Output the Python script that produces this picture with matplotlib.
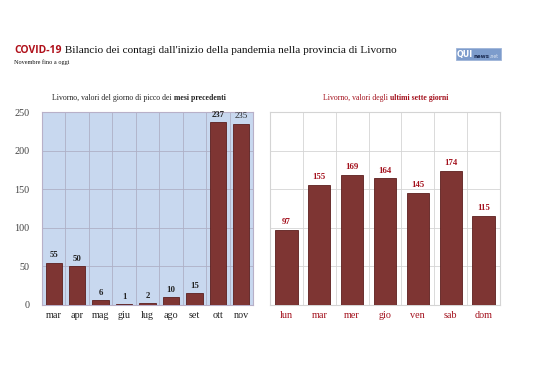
import matplotlib
matplotlib.use("Agg")
import matplotlib.pyplot as plt
from matplotlib.patches import Rectangle
import numpy as np

months = ["mar", "apr", "mag", "giu", "lug", "ago", "set", "ott", "nov"]
month_vals = [55, 50, 6, 1, 2, 10, 15, 237, 235]
days = ["lun", "mar", "mer", "gio", "ven", "sab", "dom"]
day_vals = [97, 155, 169, 164, 145, 174, 115]
yticks = [0, 50, 100, 150, 200, 250]

SERIF = "Liberation Serif"
BAR = "#7e3533"
EDGE = "#5c1e1e"
RED = "#a3101c"
W, H = 538, 380

fig = plt.figure(figsize=(5.38, 3.8), dpi=100)
fig.patch.set_facecolor("white")


def fx(px):
    return px / W


def fy(py):
    return 1 - py / H


def chain(x0, y, parts, ha="left"):
    """parts: list of (text, kwargs); draws consecutive texts on a baseline."""
    objs = [fig.text(x0, y, t, va="baseline", ha="left", **kw) for t, kw in parts]
    fig.canvas.draw()
    r = fig.canvas.get_renderer()
    widths = [o.get_window_extent(r).width / fig.bbox.width for o in objs]
    total = sum(widths)
    start = x0 - total / 2 if ha == "center" else x0
    for o, w in zip(objs, widths):
        o.set_x(start)
        start += w
    return objs


# Title
chain(fx(14), fy(53), [
    ("COVID-19", dict(color="#b0101a", fontsize=7.5, fontweight="bold", family="Open Sans")),
    (" Bilancio dei contagi dall'inizio della pandemia nella provincia di Livorno",
     dict(color="#111111", fontsize=8.1, family=SERIF)),
])
fig.text(fx(14), fy(64), "Novembre fino a oggi", fontsize=4.5, family=SERIF,
         color="#111111", va="baseline")

# logo
fig.add_artist(Rectangle((fx(456), fy(60)), fx(45), 12 / H, transform=fig.transFigure,
                         facecolor="#7d9ccc", edgecolor="#9fb4d8", linewidth=0.6))
chain(fx(457), fy(57.5), [
    ("QUI", dict(fontsize=5.8, fontweight="bold", color="white", family="DejaVu Sans")),
    ("news", dict(fontsize=4.0, fontweight="bold", color="#1a2a50", family="DejaVu Sans")),
    (".net", dict(fontsize=3.3, color="#dfe6f2", family="DejaVu Sans")),
])

bottom = fy(305)
height = 193 / H

# Left axes
ax1 = fig.add_axes([fx(42), bottom, fx(211), height])
ax1.set_facecolor("#c8d8ef")
x1 = np.arange(len(months))
ax1.bar(x1, month_vals, width=0.7, color=BAR, edgecolor=EDGE, linewidth=0.6, zorder=3)
ax1.set_xlim(-0.5, len(months) - 0.5)
ax1.set_ylim(0, 250)
ax1.set_yticks(yticks)
ax1.set_yticklabels([str(v) for v in yticks], family=SERIF, fontsize=7.3, color="#444444")
ax1.set_xticks(x1)
ax1.set_xticklabels(months, family=SERIF, fontsize=7.3, color="#222222")
ax1.set_xticks(np.arange(len(months) + 1) - 0.5, minor=True)
ax1.tick_params(axis="both", which="both", length=0)
ax1.tick_params(axis="x", pad=4)
ax1.tick_params(axis="y", pad=9)
ax1.grid(axis="y", which="major", color="#aeb0c6", linewidth=0.6, zorder=0)
ax1.grid(axis="x", which="minor", color="#aeb0c6", linewidth=0.6, zorder=0)
for s in ax1.spines.values():
    s.set_color("#b8b0c8")
    s.set_linewidth(0.8)
for i, v in enumerate(month_vals):
    ax1.text(i, v + 4, str(v), ha="center", va="bottom", family=SERIF, fontsize=6.3,
             fontweight="normal" if v == 235 else "bold", color="#222222")

# Right axes
ax2 = fig.add_axes([fx(270), bottom, fx(230), height])
ax2.set_facecolor("white")
x2 = np.arange(len(days))
ax2.bar(x2, day_vals, width=0.68, color=BAR, edgecolor=EDGE, linewidth=0.6, zorder=3)
ax2.set_xlim(-0.5, len(days) - 0.5)
ax2.set_ylim(0, 250)
ax2.set_yticks(yticks)
ax2.set_yticklabels([])
ax2.set_xticks(x2)
ax2.set_xticklabels(days, family=SERIF, fontsize=7.3, color=RED)
ax2.set_xticks(np.arange(len(days) + 1) - 0.5, minor=True)
ax2.tick_params(axis="both", which="both", length=0)
ax2.tick_params(axis="x", pad=4)
ax2.grid(axis="y", which="major", color="#d4d4d4", linewidth=0.6, zorder=0)
ax2.grid(axis="x", which="minor", color="#d4d4d4", linewidth=0.6, zorder=0)
for s in ax2.spines.values():
    s.set_color("#d4d4d4")
    s.set_linewidth(0.8)
for i, v in enumerate(day_vals):
    ax2.text(i, v + 5, str(v), ha="center", va="bottom", family=SERIF, fontsize=6.3,
             fontweight="bold", color=RED)

# Panel titles
chain(fx(139), fy(100), [
    ("Livorno, valori del giorno di picco dei ", dict(fontsize=5.6, family=SERIF, color="#222222")),
    ("mesi precedenti", dict(fontsize=5.6, family=SERIF, color="#222222", fontweight="bold")),
], ha="center")
chain(fx(386), fy(100), [
    ("Livorno, valori degli ", dict(fontsize=5.6, family=SERIF, color=RED)),
    ("ultimi sette giorni", dict(fontsize=5.6, family=SERIF, color=RED, fontweight="bold")),
], ha="center")

fig.savefig("out.png", dpi=100, facecolor="white")
